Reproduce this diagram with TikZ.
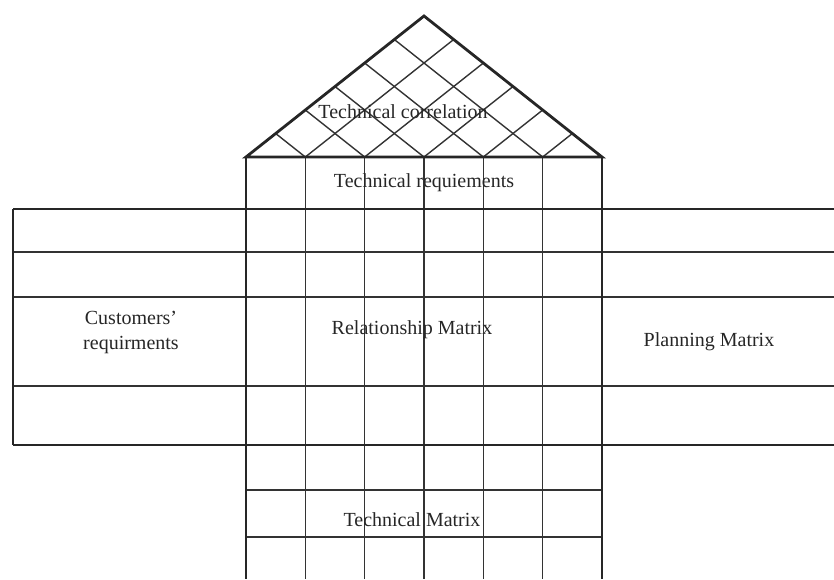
\documentclass[tikz,border=0pt]{standalone}
\usepackage{fontspec}
\setmainfont{Liberation Serif}
\usetikzlibrary{calc}

\begin{document}
\begin{tikzpicture}[x=0.5pt,y=-0.5pt,
    outline/.style={line width=1.4pt,draw=black!85},
    grid/.style={line width=0.7pt,draw=black!80},
    label/.style={font=\fontsize{10}{12.5}\selectfont,text=black!85,inner sep=0pt}]
  \useasboundingbox (0,0) rectangle (834,579);

  % roof corners
  \coordinate (L) at (246,157);
  \coordinate (R) at (602,157);
  \coordinate (A) at (424,16);

  % roof lattice and the columns under it
  \foreach \i in {1,...,5}{
    \coordinate (b\i) at ($(L)!\i/6!(R)$);
    \draw[grid] (b\i) -- ($(A)!\i/6!(R)$);
    \draw[grid] (b\i) -- ($(A)!{(6-\i)/6}!(L)$);
    \draw[grid] (b\i) -- (b\i |- 0,579);
  }

  % rows
  \foreach \y in {252,297,386}
    \draw[grid] (13,\y) -- (834,\y);
  \foreach \y in {490,537}
    \draw[grid] (246,\y) -- (602,\y);

  % outline
  \draw[outline] (L) -- (A) -- (R) -- cycle;
  \draw[outline] (L) -- (L |- 0,579);
  \draw[outline] (R) -- (R |- 0,579);
  \draw[outline] (13,209) -- (834,209);
  \draw[outline] (13,445) -- (834,445);
  \draw[outline] (13,209) -- (13,445);

  % texts
  \node[label] (corr) at (403,112) {Technical correlation};
  \node[label] (req) at (424,183) {Technical requiements};
  \node[label,align=center] (cust) at (131,332) {Customers’\\ requirments};
  \node[label] (rel) at (412,330) {Relationship Matrix};
  \node[label] (plan) at (709,342) {Planning Matrix};
  \node[label] (tech) at (412,520) {Technical Matrix};
\end{tikzpicture}
\end{document}
